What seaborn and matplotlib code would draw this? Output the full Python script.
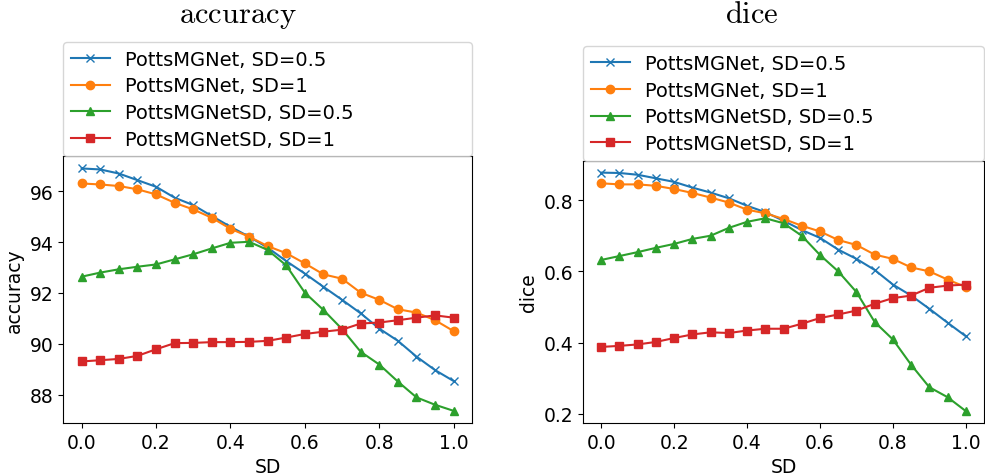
import numpy as np
import pandas as pd
import matplotlib
matplotlib.use("Agg")
import matplotlib.pyplot as plt
import seaborn as sns

# Noise level (standard deviation) on the x axis
sd = [0.0, 0.05, 0.1, 0.15, 0.2, 0.25, 0.3, 0.35, 0.4, 0.45, 0.5,
      0.55, 0.6, 0.65, 0.7, 0.75, 0.8, 0.85, 0.9, 0.95, 1.0]

series_labels = ["PottsMGNet, SD=0.5", "PottsMGNet, SD=1",
                 "PottsMGNetSD, SD=0.5", "PottsMGNetSD, SD=1"]

# Accuracy per model
acc_mg_05 = [96.89, 96.85, 96.69, 96.43, 96.17, 95.74, 95.45, 95.02, 94.60, 94.21, 93.78,
             93.25, 92.76, 92.24, 91.73, 91.20, 90.60, 90.12, 89.50, 88.97, 88.54]
acc_mg_1 = [96.30, 96.26, 96.20, 96.07, 95.87, 95.54, 95.28, 94.95, 94.52, 94.21, 93.84,
            93.56, 93.16, 92.73, 92.56, 92.01, 91.73, 91.36, 91.23, 90.93, 90.50]
acc_sd_05 = [92.64, 92.80, 92.93, 93.03, 93.12, 93.32, 93.52, 93.75, 93.97, 94.01, 93.69,
             93.08, 92.01, 91.33, 90.58, 89.69, 89.19, 88.52, 87.90, 87.61, 87.37]
acc_sd_1 = [89.31, 89.36, 89.41, 89.53, 89.79, 90.03, 90.04, 90.07, 90.07, 90.08, 90.12,
            90.25, 90.39, 90.48, 90.56, 90.80, 90.84, 90.93, 91.03, 91.12, 91.03]

# Dice score per model
dice_mg_05 = [0.877, 0.876, 0.871, 0.861, 0.851, 0.835, 0.821, 0.805, 0.784, 0.766, 0.742,
              0.716, 0.694, 0.661, 0.635, 0.604, 0.563, 0.532, 0.495, 0.456, 0.418]
dice_mg_1 = [0.847, 0.844, 0.844, 0.840, 0.831, 0.820, 0.807, 0.793, 0.773, 0.763, 0.747,
             0.728, 0.712, 0.688, 0.674, 0.647, 0.635, 0.611, 0.600, 0.577, 0.556]
dice_sd_05 = [0.632, 0.643, 0.654, 0.666, 0.677, 0.691, 0.700, 0.722, 0.739, 0.749, 0.735,
              0.700, 0.646, 0.600, 0.542, 0.458, 0.409, 0.338, 0.275, 0.247, 0.208]
dice_sd_1 = [0.388, 0.391, 0.395, 0.402, 0.413, 0.423, 0.429, 0.427, 0.434, 0.439, 0.439,
             0.453, 0.469, 0.479, 0.490, 0.509, 0.525, 0.532, 0.554, 0.560, 0.563]

colors = sns.color_palette("tab10", 4)
markers = ["x", "o", "^", "s"]

plt.rcParams["mathtext.fontset"] = "cm"
plt.rcParams["font.family"] = ["DejaVu Sans"]

fig = plt.figure(figsize=(9.85, 4.77), dpi=100)
ax_acc = fig.add_axes([0.0640, 0.1111, 0.4155, 0.5591])
ax_dice = fig.add_axes([0.5919, 0.1111, 0.4071, 0.5499])


def draw(ax, columns, ylabel):
    for label, vals, c, m in zip(series_labels, columns, colors, markers):
        df = pd.DataFrame({"SD": sd, ylabel: vals})
        sns.lineplot(data=df, x="SD", y=ylabel, ax=ax, color=c, marker=m,
                     markersize=6, markeredgecolor=c, markeredgewidth=1.0,
                     linewidth=1.5, label=label)
    ax.set_xlabel("SD", fontsize=13.5)
    ax.set_ylabel(ylabel, fontsize=13.5)
    ax.tick_params(labelsize=13.5)
    ax.legend(loc="lower left", bbox_to_anchor=(0, 1.0, 1, 0.3), mode="expand",
              borderaxespad=0, fontsize=14, labelspacing=0.39)


draw(ax_acc, [acc_mg_05, acc_mg_1, acc_sd_05, acc_sd_1], "accuracy")
draw(ax_dice, [dice_mg_05, dice_mg_1, dice_sd_05, dice_sd_1], "dice")

fig.text(238 / 985, 1 - 23 / 477, r"$\mathrm{accuracy}$", fontsize=22,
         ha="center", va="baseline")
fig.text(752 / 985, 1 - 23 / 477, r"$\mathrm{dice}$", fontsize=22,
         ha="center", va="baseline")

fig.savefig("out.png", dpi=100)
